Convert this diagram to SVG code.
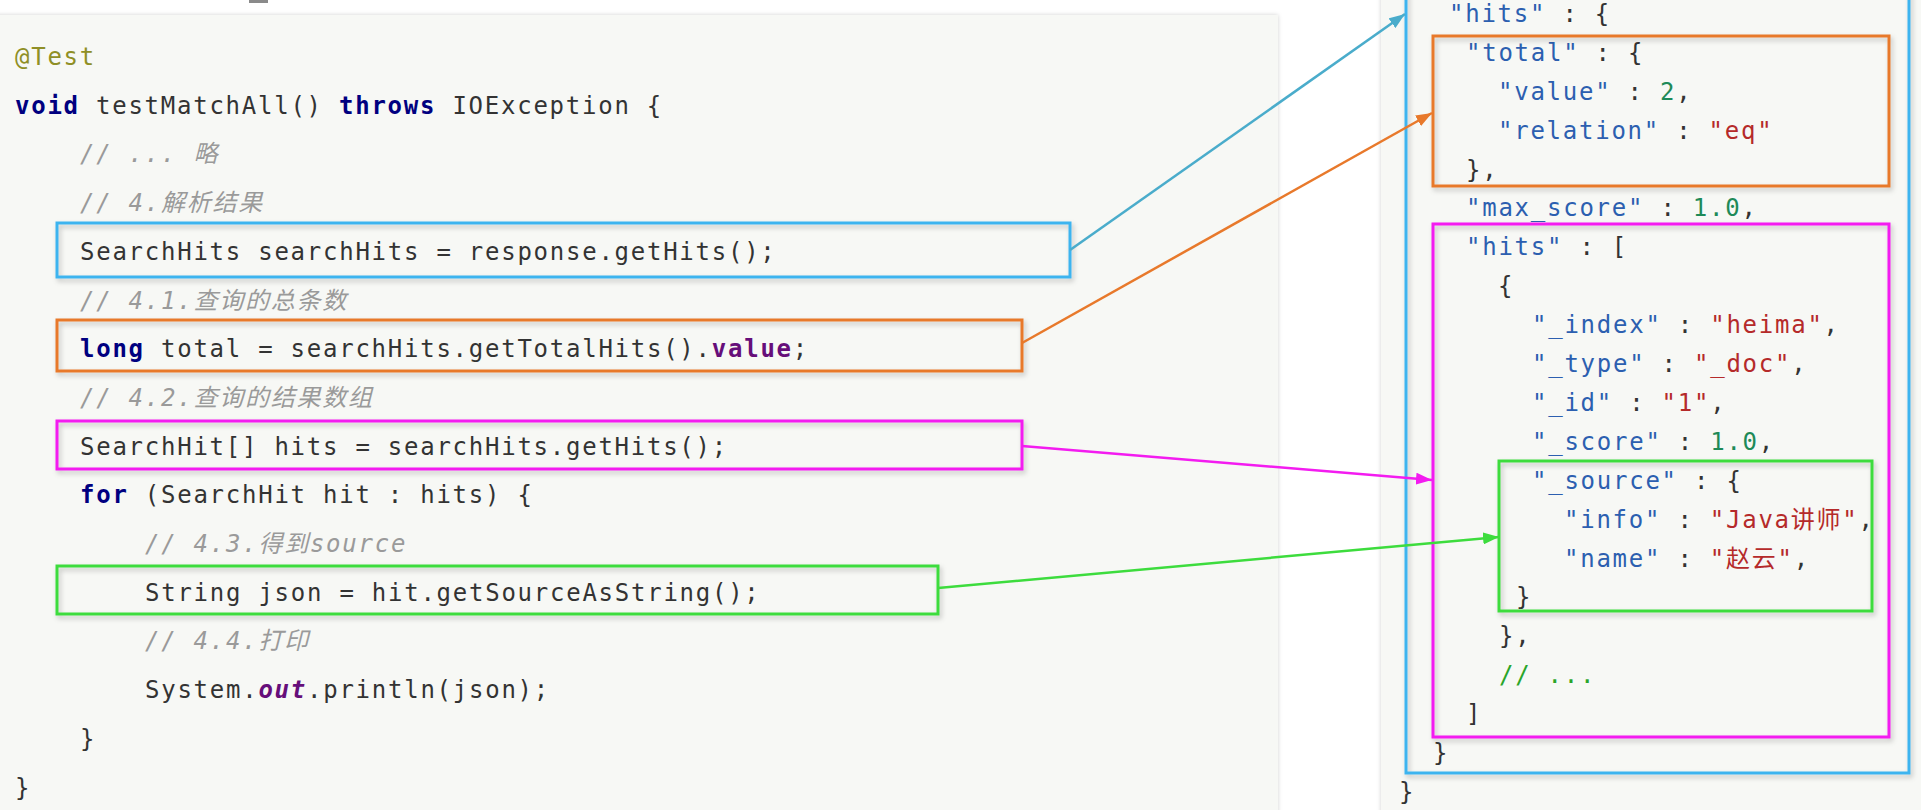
<svg xmlns="http://www.w3.org/2000/svg" width="1921" height="810" viewBox="0 0 1921 810">
<defs>
<style>
.code{font-family:'DejaVu Sans Mono','Noto Sans CJK SC',monospace;font-size:24px;letter-spacing:1.75px;fill:#333333;white-space:pre}
.kw{fill:#000080;font-weight:bold}
.ann{fill:#8f8f26}
.cm{fill:#9a9a9a;font-style:italic}
.fld{fill:#660e7a;font-weight:bold}
.it{font-style:italic}
.k{fill:#2c5fb0}
.s{fill:#b52a2a}
.n{fill:#1e8a58}
.jc{fill:#2aa52a}
.box{fill:none;stroke-width:3;filter:url(#sh)}
.blue{stroke:#3db4ef}
.orange{stroke:#e8792b}
.mag{stroke:#f31cf0}
.green{stroke:#3ddc3d}
.conn{fill:none;stroke-width:2.5}
</style>
<filter id="sh" x="-5%" y="-20%" width="110%" height="140%">
<feDropShadow dx="2" dy="3" stdDeviation="2.5" flood-color="#000" flood-opacity="0.22"/>
</filter>
<filter id="psh" x="-5%" y="-5%" width="110%" height="110%">
<feDropShadow dx="0" dy="0" stdDeviation="2" flood-color="#000" flood-opacity="0.18"/>
</filter>
<marker id="aBlue" viewBox="0 0 10 10" refX="10" refY="5" markerWidth="16" markerHeight="12" markerUnits="userSpaceOnUse" orient="auto" preserveAspectRatio="none"><path d="M0,0 L10,5 L0,10 z" fill="#4aaccb"/></marker>
<marker id="aOrange" viewBox="0 0 10 10" refX="10" refY="5" markerWidth="16" markerHeight="12" markerUnits="userSpaceOnUse" orient="auto" preserveAspectRatio="none"><path d="M0,0 L10,5 L0,10 z" fill="#e8792b"/></marker>
<marker id="aMag" viewBox="0 0 10 10" refX="10" refY="5" markerWidth="16" markerHeight="12" markerUnits="userSpaceOnUse" orient="auto" preserveAspectRatio="none"><path d="M0,0 L10,5 L0,10 z" fill="#f31cf0"/></marker>
<marker id="aGreen" viewBox="0 0 10 10" refX="10" refY="5" markerWidth="16" markerHeight="12" markerUnits="userSpaceOnUse" orient="auto" preserveAspectRatio="none"><path d="M0,0 L10,5 L0,10 z" fill="#3ddc3d"/></marker>
</defs>
<rect x="0" y="0" width="1921" height="810" fill="#ffffff"/>
<rect x="249" y="0" width="19" height="3" fill="#8a8a8a"/>
<!-- panels -->
<g id="codePanel">
<rect x="-10" y="15" width="1288" height="810" fill="#f7f8f5" filter="url(#psh)"/>
</g>
<g id="jsonPanel">
<rect x="1381" y="-10" width="560" height="830" fill="#f7f8f5" filter="url(#psh)"/>
</g>
<!-- code text -->
<g id="code">
<text class="code" x="15" y="65"><tspan class="ann">@Test</tspan></text>
<text class="code" x="15" y="114"><tspan class="kw">void</tspan> testMatchAll() <tspan class="kw">throws</tspan> IOException {</text>
<text class="code cm" x="80" y="162">// ... 略</text>
<text class="code cm" x="80" y="211">// 4.解析结果</text>
<text class="code" x="80" y="260">SearchHits searchHits = response.getHits();</text>
<text class="code cm" x="80" y="309">// 4.1.查询的总条数</text>
<text class="code" x="80" y="357"><tspan class="kw">long</tspan> total = searchHits.getTotalHits().<tspan class="fld">value</tspan>;</text>
<text class="code cm" x="80" y="406">// 4.2.查询的结果数组</text>
<text class="code" x="80" y="455">SearchHit[] hits = searchHits.getHits();</text>
<text class="code" x="80" y="503"><tspan class="kw">for</tspan> (SearchHit hit : hits) {</text>
<text class="code cm" x="145" y="552">// 4.3.得到source</text>
<text class="code" x="145" y="601">String json = hit.getSourceAsString();</text>
<text class="code cm" x="145" y="649">// 4.4.打印</text>
<text class="code" x="145" y="698">System.<tspan class="fld it">out</tspan>.println(json);</text>
<text class="code" x="80" y="747">}</text>
<text class="code" x="15" y="796">}</text>
</g>
<!-- json text -->
<g id="json">
<text class="code" x="1449" y="22"><tspan class="k">"hits"</tspan> : {</text>
<text class="code" x="1466" y="61"><tspan class="k">"total"</tspan> : {</text>
<text class="code" x="1498" y="100"><tspan class="k">"value"</tspan> : <tspan class="n">2</tspan>,</text>
<text class="code" x="1498" y="139"><tspan class="k">"relation"</tspan> : <tspan class="s">"eq"</tspan></text>
<text class="code" x="1466" y="178">},</text>
<text class="code" x="1466" y="216"><tspan class="k">"max_score"</tspan> : <tspan class="n">1.0</tspan>,</text>
<text class="code" x="1466" y="255"><tspan class="k">"hits"</tspan> : [</text>
<text class="code" x="1498" y="294">{</text>
<text class="code" x="1532" y="333"><tspan class="k">"_index"</tspan> : <tspan class="s">"heima"</tspan>,</text>
<text class="code" x="1532" y="372"><tspan class="k">"_type"</tspan> : <tspan class="s">"_doc"</tspan>,</text>
<text class="code" x="1532" y="411"><tspan class="k">"_id"</tspan> : <tspan class="s">"1"</tspan>,</text>
<text class="code" x="1532" y="450"><tspan class="k">"_score"</tspan> : <tspan class="n">1.0</tspan>,</text>
<text class="code" x="1532" y="489"><tspan class="k">"_source"</tspan> : {</text>
<text class="code" x="1564" y="528"><tspan class="k">"info"</tspan> : <tspan class="s">"Java讲师"</tspan>,</text>
<text class="code" x="1564" y="567"><tspan class="k">"name"</tspan> : <tspan class="s">"赵云"</tspan>,</text>
<text class="code" x="1516" y="605">}</text>
<text class="code" x="1499" y="644">},</text>
<text class="code jc" x="1499" y="683">// ...</text>
<text class="code" x="1466" y="722">]</text>
<text class="code" x="1433" y="761">}</text>
<text class="code" x="1399" y="800">}</text>
</g>
<!-- highlight boxes -->
<g id="boxSearchHits"><rect class="box blue" x="57" y="223" width="1013" height="54"/></g>
<g id="boxTotal"><rect class="box orange" x="57" y="320" width="965" height="51"/></g>
<g id="boxHits"><rect class="box mag" x="57" y="421" width="965" height="48"/></g>
<g id="boxSource"><rect class="box green" x="57" y="566" width="881" height="48"/></g>
<g id="jsonHitsObj"><rect class="box blue" x="1406" y="-10" width="503" height="783"/></g>
<g id="jsonTotal"><rect class="box orange" x="1433" y="36" width="456" height="150"/></g>
<g id="jsonHitsArr"><rect class="box mag" x="1433" y="224" width="456" height="513"/></g>
<g id="jsonSource"><rect class="box green" x="1499" y="461" width="373" height="150"/></g>
<!-- connectors -->
<g id="connectors">
<line class="conn" x1="1070" y1="250" x2="1405" y2="14" stroke="#4aaccb" marker-end="url(#aBlue)"/>
<line class="conn" x1="1022" y1="343" x2="1432" y2="113" stroke="#e8792b" marker-end="url(#aOrange)"/>
<line class="conn" x1="1022" y1="446" x2="1432" y2="480" stroke="#f31cf0" marker-end="url(#aMag)"/>
<line class="conn" x1="938" y1="588" x2="1499" y2="537" stroke="#3ddc3d" marker-end="url(#aGreen)"/>
</g>
</svg>
